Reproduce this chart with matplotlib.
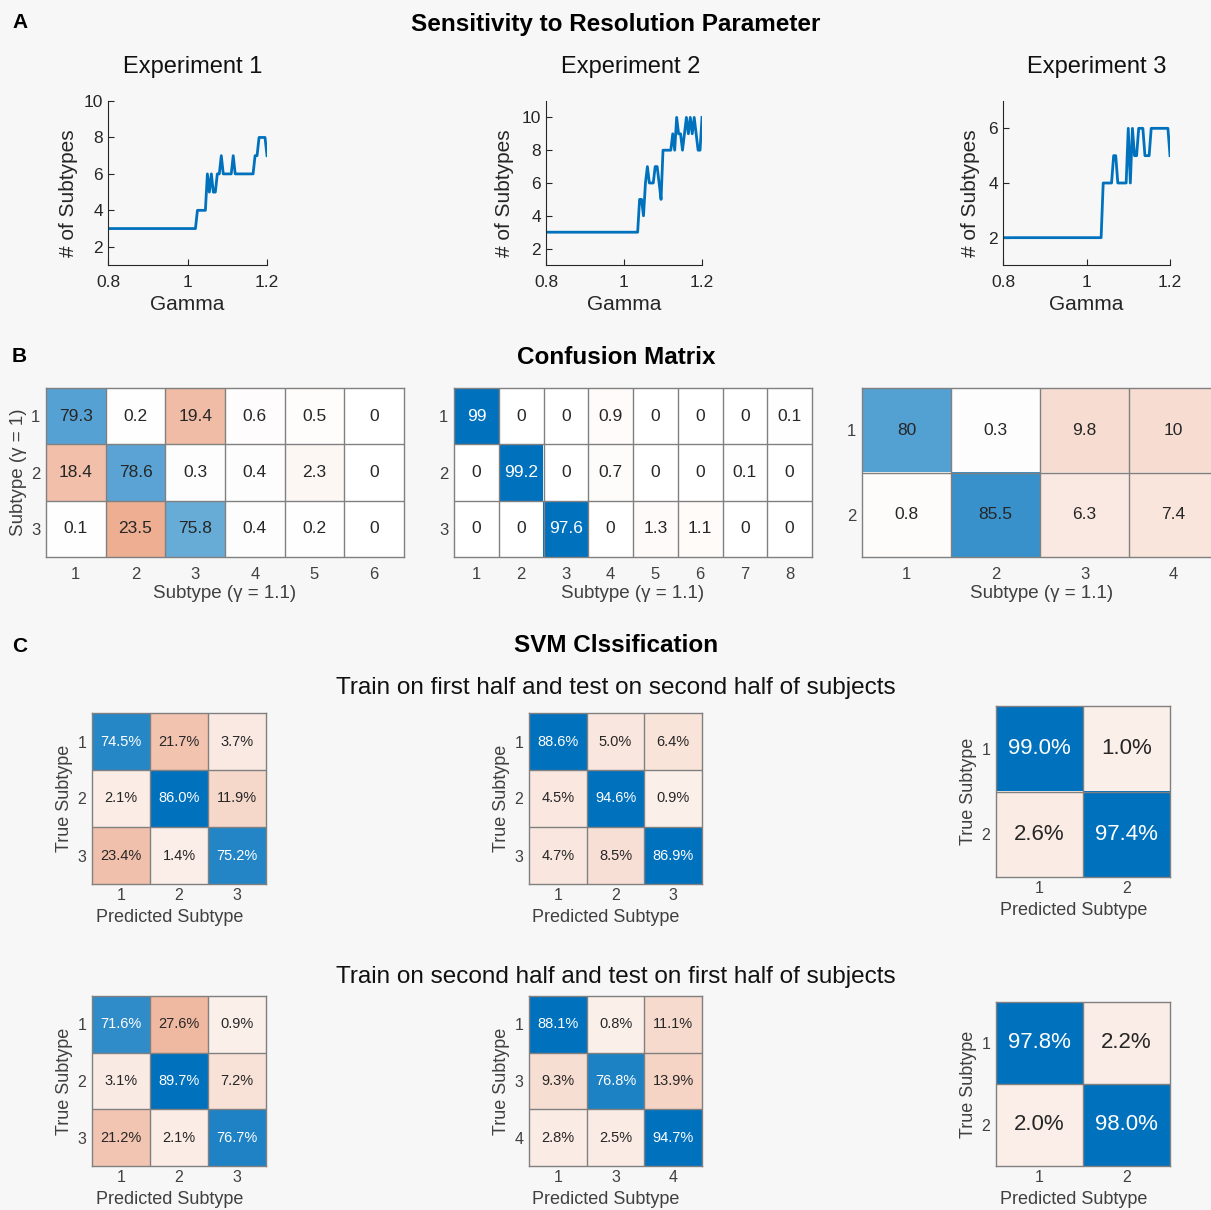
import numpy as np
import matplotlib
matplotlib.use("Agg")
import matplotlib.pyplot as plt

plt.rcParams['font.family'] = ['Liberation Sans', 'DejaVu Sans']

# ---- data ----
gamma = np.round(np.arange(0.8, 1.2001, 0.005), 3)

exp1_n = [3] * 45 + [4] * 5 + [6, 5, 6, 5, 5, 6, 6, 7] + [6] * 5 + [7] + [6] * 10 + [7, 7] + [8] * 4 + [7]
exp2_n = [3] * 48 + [5, 5, 4, 6, 7, 6, 6, 6, 7, 7, 6, 5] + [8] * 5 + [9, 8, 10, 9, 9, 8, 9, 10, 9, 10, 9, 10, 9, 8, 8, 10]
exp3_n = [2] * 48 + [4] * 5 + [5, 5] + [4] * 5 + [6, 4, 6, 5, 5] + [6] * 3 + [5] * 3 + [6] * 9 + [5]

exp_titles = ['Experiment 1', 'Experiment 2', 'Experiment 3']
exp_ylims = [(1, 10), (1, 11), (1, 7)]
exp_yticks = [[2, 4, 6, 8, 10], [2, 4, 6, 8, 10], [2, 4, 6]]

conf1 = [[79.3, 0.2, 19.4, 0.6, 0.5, 0],
         [18.4, 78.6, 0.3, 0.4, 2.3, 0],
         [0.1, 23.5, 75.8, 0.4, 0.2, 0]]
conf2 = [[99, 0, 0, 0.9, 0, 0, 0, 0.1],
         [0, 99.2, 0, 0.7, 0, 0, 0.1, 0],
         [0, 0, 97.6, 0, 1.3, 1.1, 0, 0]]
conf3 = [[80, 0.3, 9.8, 10],
         [0.8, 85.5, 6.3, 7.4]]

svm_a1 = [[74.5, 21.7, 3.7], [2.1, 86.0, 11.9], [23.4, 1.4, 75.2]]
svm_a2 = [[88.6, 5.0, 6.4], [4.5, 94.6, 0.9], [4.7, 8.5, 86.9]]
svm_a3 = [[99.0, 1.0], [2.6, 97.4]]
svm_b1 = [[71.6, 27.6, 0.9], [3.1, 89.7, 7.2], [21.2, 2.1, 76.7]]
svm_b2 = [[88.1, 0.8, 11.1], [9.3, 76.8, 13.9], [2.8, 2.5, 94.7]]
svm_b3 = [[97.8, 2.2], [2.0, 98.0]]
svm_b2_labels = ['1', '3', '4']

W, H = 1211, 1210
BG = '#f7f7f7'
BLUE = np.array([0, 114, 189]) / 255
ORANGE = np.array([217, 83, 25]) / 255
TXT = '#262626'

fig = plt.figure(figsize=(W / 100, H / 100), dpi=100, facecolor=BG)


def add_ax(x0, y0, x1, y1):
    return fig.add_axes([x0 / W, 1 - y1 / H, (x1 - x0) / W, (y1 - y0) / H])


def ftext(x, y, s, **kw):
    fig.text(x / W, 1 - y / H, s, **kw)


def cell_color(v, diag, mode):
    if diag:
        if mode == 'B':
            f = np.clip((v - 45) / 52, 0, 1)
        else:
            f = np.clip(0.5 + 0.5 * (v - 50) / 35, 0, 1)
        c = 1 - f * (1 - BLUE)
    else:
        if mode == 'B':
            f = np.clip(v / 50, 0, 1)
        else:
            f = np.clip(0.08 + 0.012 * v, 0, 1)
        c = 1 - f * (1 - ORANGE)
    return c, f


def heat(box, vals, mode, fmt, fs, xt=None, yt=None, xlabel=None, ylabel=None,
         tick_fs=12, lab_fs=13, xlab_shift=0.0, xlab_off=24, xpad=7):
    ax = add_ax(*box)
    vals = np.array(vals, dtype=float)
    nr, nc = vals.shape
    img = np.zeros((nr, nc, 3))
    for i in range(nr):
        for j in range(nc):
            c, f = cell_color(vals[i, j], i == j, mode)
            img[i, j] = c
            white = (i == j) and (mode == 'C' or f > 0.9)
            ax.text(j, i, fmt(vals[i, j]), ha='center', va='center', fontsize=fs,
                    color='white' if white else TXT)
    ax.imshow(img, aspect='auto', interpolation='nearest')
    for k in range(1, nc):
        ax.axvline(k - 0.5, color='#808080', lw=1)
    for k in range(1, nr):
        ax.axhline(k - 0.5, color='#808080', lw=1)
    for s in ax.spines.values():
        s.set_color('#808080')
        s.set_linewidth(1)
    ax.set_xticks(range(nc))
    ax.set_yticks(range(nr))
    ax.set_xticklabels(xt if xt else [str(k + 1) for k in range(nc)])
    ax.set_yticklabels(yt if yt else [str(k + 1) for k in range(nr)])
    ax.tick_params(length=0, labelsize=tick_fs, labelcolor='#404040')
    ax.tick_params(axis='x', pad=xpad)
    ax.tick_params(axis='y', pad=4)
    if xlabel:
        ax.set_xlabel(xlabel, fontsize=lab_fs, color='#404040')
        ax.xaxis.set_label_coords(0.5 + xlab_shift, -xlab_off / (box[3] - box[1]))
    if ylabel:
        ax.set_ylabel(ylabel, fontsize=lab_fs, color='#404040', labelpad=3)
    return ax


# ---- A: sensitivity ----
ftext(12, 22, 'A', fontsize=15, fontweight='bold', va='center')
ftext(616, 24, 'Sensitivity to Resolution Parameter', fontsize=17.5, fontweight='bold',
      ha='center', va='center')

line_boxes = [(108, 101, 267, 265), (546, 101, 702, 265), (1003, 101, 1170, 265)]
title_x = [193, 631, 1097]
ylab_x = [78, 514, 980]
series = [exp1_n, exp2_n, exp3_n]
for k in range(3):
    box = line_boxes[k]
    ax = add_ax(*box)
    ax.set_facecolor(BG)
    ax.plot(gamma, series[k], color='#0072BD', lw=2)
    ax.set_xlim(0.8, 1.2)
    ax.set_ylim(*exp_ylims[k])
    ax.set_xticks([0.8, 1, 1.2])
    ax.set_xticklabels(['0.8', '1', '1.2'])
    ax.set_yticks(exp_yticks[k])
    for s in ['top', 'right']:
        ax.spines[s].set_visible(False)
    for s in ['left', 'bottom']:
        ax.spines[s].set_color(TXT)
        ax.spines[s].set_linewidth(0.8)
    ax.tick_params(direction='in', length=4, labelsize=12.5, colors=TXT)
    ax.tick_params(axis='x', pad=7)
    ax.set_xlabel('Gamma', fontsize=15, color=TXT, labelpad=4)
    ax.set_ylabel('# of Subtypes', fontsize=15, color=TXT)
    ax.yaxis.set_label_coords(-(box[0] - ylab_x[k]) / (box[2] - box[0]), 0.44)
    ftext(title_x[k], 67, exp_titles[k], fontsize=17, ha='center', va='center', color='#111111')

# ---- B: confusion matrix ----
ftext(12, 357, 'B', fontsize=15, fontweight='bold', va='center')
ftext(616, 357, 'Confusion Matrix', fontsize=17.5, fontweight='bold', ha='center', va='center')
fmt_b = lambda v: '%g' % v
xl_b = 'Subtype (γ = 1.1)'
heat((46, 388, 404, 557), conf1, 'B', fmt_b, 12.5, xlabel=xl_b, ylabel='Subtype (γ = 1)',
     lab_fs=13.5, xlab_off=28)
heat((454, 388, 812, 557), conf2, 'B', fmt_b, 12.5, xlabel=xl_b, lab_fs=13.5, xlab_off=28)
heat((862, 388, 1218, 557), conf3, 'B', fmt_b, 12.5, xlabel=xl_b, lab_fs=13.5, xlab_off=28,
     xlab_shift=0.005)

# ---- C: SVM ----
ftext(12, 646, 'C', fontsize=15, fontweight='bold', va='center')
ftext(616, 646, 'SVM Clssification', fontsize=17.5, fontweight='bold', ha='center', va='center')
ftext(616, 688, 'Train on first half and test on second half of subjects', fontsize=17.5,
      ha='center', va='center', color='#111111')
ftext(616, 977, 'Train on second half and test on first half of subjects', fontsize=17.5,
      ha='center', va='center', color='#111111')
fmt_c = lambda v: '%.1f%%' % v
pl = 'Predicted Subtype'
tl = 'True Subtype'
ckw = dict(xlabel=pl, ylabel=tl, xlab_shift=-0.055, xlab_off=25, xpad=3, tick_fs=11.5)
heat((92, 713, 266, 884), svm_a1, 'C', fmt_c, 10.5, **ckw)
heat((529, 713, 702, 884), svm_a2, 'C', fmt_c, 10.5, **ckw)
heat((996, 706, 1170, 877), svm_a3, 'C', fmt_c, 16, **ckw)
heat((92, 996, 266, 1166), svm_b1, 'C', fmt_c, 10.5, **ckw)
heat((529, 996, 702, 1166), svm_b2, 'C', fmt_c, 10.5, xt=svm_b2_labels, yt=svm_b2_labels, **ckw)
heat((996, 1002, 1170, 1166), svm_b3, 'C', fmt_c, 16, **ckw)

fig.savefig('out.png', dpi=100, facecolor=BG)
